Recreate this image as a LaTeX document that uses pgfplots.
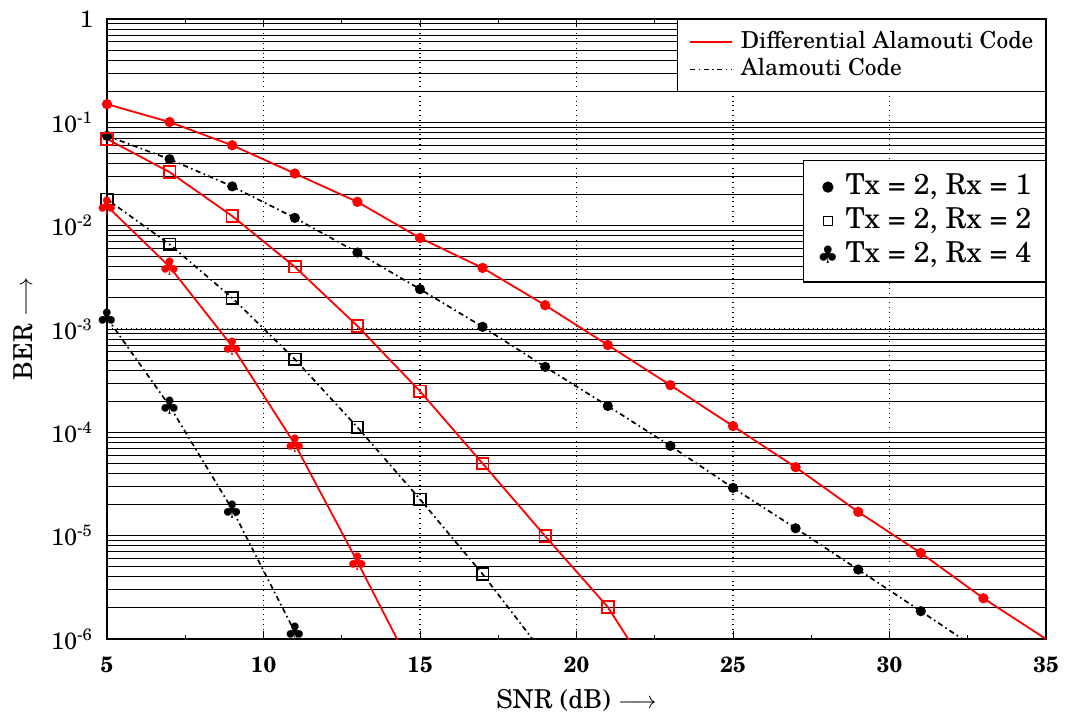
\documentclass[border=0pt]{standalone}
\usepackage{fontspec}
\setmainfont{TeX Gyre Schola}
\newfontfamily\djv{DejaVu Sans}
\usepackage{pgfplots}
\pgfplotsset{compat=1.18}
\newcommand{\club}{{\djv\fontsize{12}{12}\selectfont ♣}}
\newcommand{\clubL}{{\djv\fontsize{12}{12}\selectfont ♣}}
\tikzset{dashdotA/.style={black, line width=0.85pt, dash pattern=on 2.6pt off 1.7pt on 0.8pt off 1.7pt}}
\begin{document}
\begin{tikzpicture}
\begin{axis}[
  scale only axis, width=469.5pt, height=310pt,
  xmin=5, xmax=35, ymode=log, ymin=1e-6, ymax=1,
  xtick={5,10,...,35}, minor x tick num=1,
  ytick={1e-6,1e-5,1e-4,1e-3,1e-2,1e-1,1},
  yticklabels={10\textsuperscript{-6},10\textsuperscript{-5},10\textsuperscript{-4},10\textsuperscript{-3},10\textsuperscript{-2},10\textsuperscript{-1},1},
  xticklabels={5,10,15,20,25,30,35},
  xmajorgrids, ymajorgrids, yminorgrids,
  major grid style={black, dotted, line width=0.6pt},
  minor grid style={black, line width=0.5pt},
  tick align=inside, major tick length=4pt, minor tick length=2pt,
  tick style={black, line width=0.5pt},
  axis line style={black, line width=0.8pt},
  yticklabel style={font=\fontsize{11.8}{13}\selectfont},
  yticklabel shift=3.5pt,
  xticklabel style={font=\fontsize{11}{13}\selectfont\bfseries},
  xticklabel shift=5.5pt,
  label style={font=\fontsize{13}{15}\selectfont},
  xlabel={SNR (dB) $\longrightarrow$}, ylabel={BER $\longrightarrow$},
  xlabel style={at={(axis description cs:0.5,-0.0984)}, anchor=center},
  ylabel style={at={(axis description cs:-0.0895,0.5)}, anchor=center},
  legend cell align=left,
  legend style={at={(1,1)}, anchor=north east, draw=black, line width=0.6pt,
    font=\fontsize{11.7}{13}\selectfont, fill=white, inner xsep=4pt, inner ysep=3.6pt,
    nodes={inner sep=2pt, text height=8.6pt, text depth=2.6pt}, row sep=-1.5pt},
  legend image code/.code={\path (-2pt,0pt) (23pt,0pt); \draw[#1] plot coordinates {(0pt,0pt)(21pt,0pt)};},
]
\addlegendimage{red, line width=0.9pt}
\addlegendentry{Differential Alamouti Code}
\addlegendimage{dashdotA}
\addlegendentry{Alamouti Code}

% Differential, Rx=1
\addplot[forget plot, red, line width=0.9pt, mark=*, mark size=2.1pt, mark indices={1,...,15}] coordinates {
(5,0.150)(7,0.1007)(9,0.060)(11,0.032)(13,0.017)(15,0.0076)(17,0.0039)(19,0.0017)(21,7.0e-4)(23,2.86e-4)(25,1.15e-4)(27,4.6e-5)(29,1.7e-5)(31,6.8e-6)(33,2.48e-6)(35,1.0e-6)};
% Alamouti, Rx=1
\addplot[forget plot, dashdotA, mark=*, mark size=2.1pt, mark options={solid}, mark indices={1,...,14}] coordinates {
(5,0.074)(7,0.044)(9,0.024)(11,0.0119)(13,0.0055)(15,0.00243)(17,0.00105)(19,4.3e-4)(21,1.8e-4)(23,7.4e-5)(25,2.9e-5)(27,1.18e-5)(29,4.7e-6)(31,1.86e-6)(33,7.3e-7)};
% Differential, Rx=2
\addplot[forget plot, red, line width=0.9pt, mark=square, mark size=2.9pt, mark options={solid, line width=0.9pt}, mark indices={1,...,9}] coordinates {
(5,0.069)(7,0.033)(9,0.0124)(11,0.0040)(13,0.00107)(15,2.5e-4)(17,5.0e-5)(19,9.9e-6)(21,2.04e-6)(23,2.3e-7)};
% Alamouti, Rx=2
\addplot[forget plot, dashdotA, mark=square, mark size=2.9pt, mark options={solid, line width=0.9pt}, mark indices={1,...,7}] coordinates {
(5,0.018)(7,0.0066)(9,0.0020)(11,5.1e-4)(13,1.12e-4)(15,2.25e-5)(17,4.25e-6)(19,6.9e-7)};
% Differential, Rx=4
\addplot[forget plot, red, line width=0.9pt, mark=text, text mark={\color{red}\club}, mark indices={1,...,5}] coordinates {
(5,0.0155)(7,0.0040)(9,6.8e-4)(11,7.7e-5)(13,5.6e-6)(15,3.7e-7)};
% Alamouti, Rx=4
\addplot[forget plot, dashdotA, mark=text, text mark={\color{black}\club}, mark indices={1,...,4}] coordinates {
(5,1.28e-3)(7,1.8e-4)(9,1.8e-5)(11,1.17e-6)(13,5e-8)};
\end{axis}
\begin{axis}[
  scale only axis, width=469.5pt, height=310pt,
  hide axis, xmin=0, xmax=1, ymin=0, ymax=1,
  legend cell align=left,
  legend style={at={(1,0.674)}, anchor=east, draw=black, line width=0.6pt,
    font=\fontsize{14.4}{16}\selectfont, fill=white, inner xsep=5pt, inner ysep=5.2pt,
    nodes={inner sep=2pt, text height=10pt, text depth=2.5pt}, row sep=0.5pt},
  legend image code/.code={\path (-7pt,0pt) (6.5pt,0pt); \draw[#1] plot coordinates {(0pt,0pt)};},
]
\addlegendimage{only marks, mark=*, black, mark size=2.5pt}
\addlegendentry{Tx = 2, Rx = 1}
\addlegendimage{only marks, mark=square, black, mark size=2.3pt, line width=0.4pt}
\addlegendentry{Tx = 2, Rx = 2}
\addlegendimage{only marks, mark=text, text mark={\color{black}\clubL}}
\addlegendentry{Tx = 2, Rx = 4}
\end{axis}
\pgfresetboundingbox
\path[use as bounding box] (-53.5pt,-39.5pt) rectangle (480.5pt,319.5pt);
\end{tikzpicture}
\end{document}
